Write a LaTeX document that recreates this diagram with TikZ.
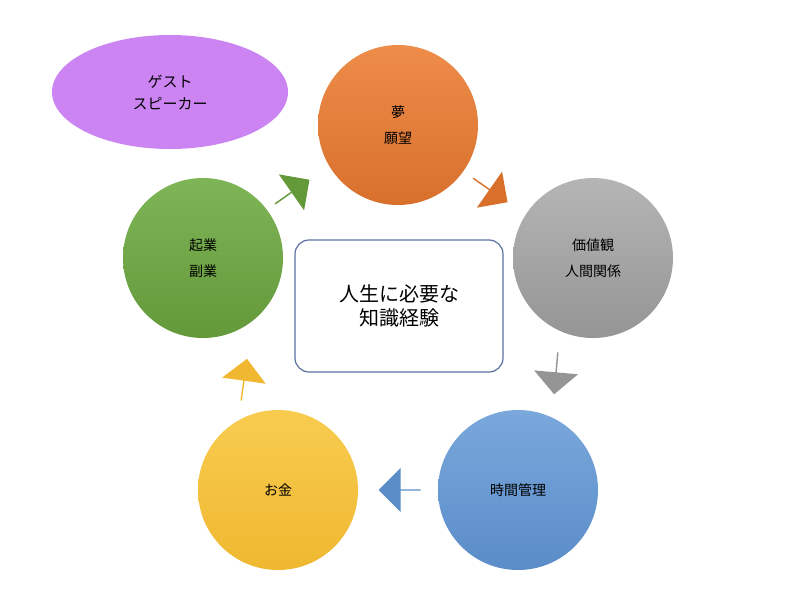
\documentclass[tikz,border=0pt]{standalone}
\usepackage{fontspec}
\setmainfont{Noto Sans CJK JP}
\usetikzlibrary{shapes.arrows,shapes.geometric}
\definecolor{orgT}{HTML}{EE8C4A}\definecolor{orgB}{HTML}{D8702C}
\definecolor{gryT}{HTML}{B5B5B5}\definecolor{gryB}{HTML}{959595}
\definecolor{bluT}{HTML}{7AA8DC}\definecolor{bluB}{HTML}{5A8CC8}
\definecolor{yelT}{HTML}{F8CC50}\definecolor{yelB}{HTML}{F0B830}
\definecolor{grnT}{HTML}{7EB556}\definecolor{grnB}{HTML}{64993A}
\definecolor{purp}{HTML}{CB84F2}
\definecolor{boxline}{HTML}{5B6FA0}
\begin{document}
\begin{tikzpicture}[x=1pt,y=1pt,
  circ/.style={circle,minimum size=160pt,inner sep=0pt,align=center,font=\fontsize{14}{26}\selectfont},
  barrow/.style={single arrow,minimum height=42pt,minimum width=44pt,single arrow head extend=6pt,inner sep=0pt,draw=none}]
\useasboundingbox (0,0) rectangle (800,-600);
\fill[white] (0,0) rectangle (800,-600);
\node[ellipse,fill=purp,minimum width=236pt,minimum height=114pt,align=center,font=\fontsize{15}{22}\selectfont] (guest) at (170,-92) {ゲスト\\スピーカー};
\node[circ,top color=orgT,bottom color=orgB] (dream) at (398,-125) {夢\\願望};
\node[circ,top color=gryT,bottom color=gryB] (value) at (593,-258) {価値観\\人間関係};
\node[circ,top color=bluT,bottom color=bluB] (time) at (518,-490) {時間管理};
\node[circ,top color=yelT,bottom color=yelB] (money) at (278,-490) {お金};
\node[circ,top color=grnT,bottom color=grnB] (biz) at (203,-258) {起業\\副業};
\node[draw=boxline,line width=1.2pt,rounded corners=14pt,minimum width=208pt,minimum height=132pt,align=center,font=\fontsize{20}{24}\selectfont] (center) at (399,-306) {人生に必要な\\知識経験};
\node[barrow,fill=orgB,rotate=-35] (a1) at (490,-190) {};
\node[barrow,fill=gryB,rotate=-95] (a2) at (556,-373) {};
\node[barrow,fill=bluB,rotate=180] (a3) at (400,-490) {};
\node[barrow,fill=yelB,rotate=82] (a4) at (244,-380) {};
\node[barrow,fill=grnB,rotate=35] (a5) at (292,-192) {};
\end{tikzpicture}
\end{document}
